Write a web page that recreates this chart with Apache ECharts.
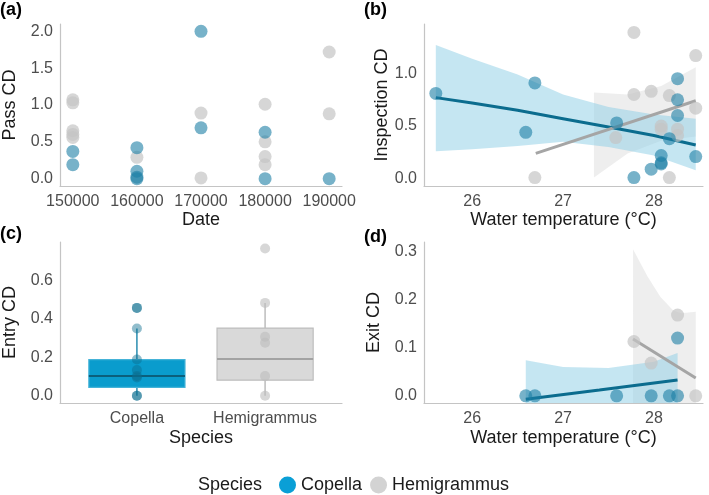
<!DOCTYPE html>
<html>
<head>
<meta charset="utf-8">
<script src="https://cdn.jsdelivr.net/npm/echarts@6/dist/echarts.min.js"></script>
<style>
  html, body { margin: 0; padding: 0; background: #fff; }
  #chart { width: 709px; height: 495px; }
</style>
</head>
<body>
<div id="chart"></div>
<script>
// (a) Pass CD by date
var dateTicks = [150000, 160000, 170000, 180000, 190000];
var passCopella = [[150000, 0.37], [150000, 0.19], [160000, 0.42], [160000, 0.10], [160000, 0.02], [160000, 0.0],
    [170000, 2.0], [170000, 0.69], [180000, 0.63], [180000, 0.0], [190000, 0.0]];
var passHemi = [[150000, 1.07], [150000, 1.03], [150000, 0.65], [150000, 0.60], [150000, 0.56], [160000, 0.29],
    [170000, 0.89], [170000, 0.01], [180000, 1.01], [180000, 0.50], [180000, 0.30], [180000, 0.19],
    [190000, 1.72], [190000, 0.88]];

// (b) Inspection CD vs water temperature
var tempTicks = [26, 27, 28];
var inspCopella = [[25.60, 0.81], [26.69, 0.91], [26.59, 0.44], [27.59, 0.53], [27.78, 0.01], [27.97, 0.09],
    [28.08, 0.15], [28.08, 0.14], [28.08, 0.22], [28.17, 0.38], [28.26, 0.95], [28.26, 0.75], [28.26, 0.60],
    [28.46, 0.21]];
var inspHemi = [[26.69, 0.01], [27.58, 0.39], [27.78, 1.39], [27.78, 0.80], [27.97, 0.83], [28.08, 0.50],
    [28.08, 0.47], [28.17, 0.79], [28.17, 0.01], [28.26, 0.47], [28.26, 0.41], [28.46, 1.17], [28.46, 0.67]];
var inspCopFitX = [25.6, 26.0, 26.5, 27.0, 27.5, 28.0, 28.46];
var inspCopFit = [0.77, 0.72, 0.65, 0.57, 0.49, 0.41, 0.32];
var inspCopUpper = [1.27, 1.14, 0.99, 0.80, 0.68, 0.61, 0.57];
var inspCopLower = [0.26, 0.28, 0.31, 0.35, 0.30, 0.22, 0.08];
var inspHemiFitX = [26.7, 28.46];
var inspHemiFit = [0.24, 0.74];
var inspHemiBandX = [27.34, 27.71, 28.08, 28.46];
var inspHemiUpper = [0.82, 0.80, 0.88, 1.06];
var inspHemiLower = [0.01, 0.24, 0.36, 0.40];

// (c) Entry CD by species
var speciesNames = ['Copella', 'Hemigrammus'];
// min, q1, median, q3, max
var entryBoxCopella = [0, 0.043, 0.103, 0.188, 0.35];
var entryBoxHemi = [0, 0.081, 0.191, 0.352, 0.483];
var entryCopella = [0.457, 0.457, 0.35, 0.188, 0.134, 0.103, 0.095, 0.0, 0.0];
var entryHemi = [0.766, 0.483, 0.307, 0.276, 0.102, 0.0];

// (d) Exit CD vs water temperature
var exitCopella = [[26.59, 0], [26.69, 0], [27.59, 0], [27.97, 0], [28.17, 0], [28.26, 0], [28.26, 0.12]];
var exitHemi = [[27.78, 0.113], [27.97, 0.068], [28.26, 0.168], [28.46, 0]];
var exitCopFitX = [26.59, 27.4, 28.26];
var exitCopFit = [-0.007, 0.012, 0.033];
var exitCopBandX = [26.59, 27.0, 27.5, 28.0, 28.26];
var exitCopUpper = [0.074, 0.060, 0.058, 0.071, 0.089];
var exitCopLower = [-0.015, -0.015, -0.015, -0.015, -0.015];
var exitHemiFitX = [27.77, 28.46];
var exitHemiFit = [0.118, 0.037];
var exitHemiBandX = [27.77, 27.93, 28.07, 28.21, 28.3, 28.46];
var exitHemiUpper = [0.305, 0.248, 0.206, 0.178, 0.172, 0.175];
var exitHemiLower = [-0.015, -0.015, -0.015, -0.015, -0.015, -0.015];

var FONT = 'Liberation Sans, Arial, sans-serif';
var BLUE_PT = '#1c7ea5', GREY_PT = '#c4c4c4';
var BLUE_LINE = '#0b6c8e', GREY_LINE = '#a5a5a5';
var BLUE_BAND = 'rgba(140,205,230,0.5)', GREY_BAND = 'rgba(200,200,200,0.3)';

function zip(xs, ys) {
    return xs.map(function (x, i) { return [x, ys[i]]; });
}
function fixed1(v) { return Number(v).toFixed(1); }

function xAxisCfg(idx, min, max, ticks, name, gap, fmt) {
    return {
        type: 'value', gridIndex: idx, min: min, max: max,
        name: name, nameLocation: 'middle', nameGap: gap,
        nameTextStyle: { color: '#1a1a1a', fontSize: 18, fontFamily: FONT },
        axisLine: { show: true, onZero: false, lineStyle: { color: '#c4c4c4', width: 1.2 } },
        axisTick: { show: false },
        splitLine: { show: false },
        axisLabel: { customValues: ticks, formatter: fmt, color: '#4d4d4d', fontSize: 16, fontFamily: FONT, margin: 8 }
    };
}
function yAxisCfg(idx, min, max, ticks, name, gap) {
    return {
        type: 'value', gridIndex: idx, min: min, max: max,
        name: name, nameLocation: 'middle', nameGap: gap,
        nameTextStyle: { color: '#1a1a1a', fontSize: 18, fontFamily: FONT },
        axisLine: { show: true, onZero: false, lineStyle: { color: '#c4c4c4', width: 1.2 } },
        axisTick: { show: false },
        splitLine: { show: false },
        axisLabel: { customValues: ticks, formatter: fixed1, color: '#4d4d4d', fontSize: 16, fontFamily: FONT, margin: 7 }
    };
}
function pts(name, idx, data, color, opacity, size) {
    return {
        name: name, type: 'scatter', xAxisIndex: idx, yAxisIndex: idx, data: data,
        symbolSize: size || 13, z: 5,
        itemStyle: { color: color, opacity: opacity }
    };
}
function fit(name, idx, data, color) {
    return {
        name: name, type: 'line', xAxisIndex: idx, yAxisIndex: idx, data: data,
        showSymbol: false, symbol: 'none', z: 4,
        lineStyle: { color: color, width: 3 }
    };
}
// confidence ribbon drawn as one polygon through the axis scales
function band(name, idx, xs, upper, lower, color) {
    return {
        name: name, type: 'custom', xAxisIndex: idx, yAxisIndex: idx, z: 2,
        data: xs.map(function (x, i) { return [x, lower[i], upper[i]]; }),
        encode: { x: 0, y: [1, 2] },
        renderItem: function (params, api) {
            if (params.dataIndex !== 0) return null;
            var poly = [];
            for (var i = 0; i < xs.length; i++) poly.push(api.coord([xs[i], upper[i]]));
            for (var j = xs.length - 1; j >= 0; j--) poly.push(api.coord([xs[j], lower[j]]));
            return { type: 'polygon', shape: { points: poly }, style: { fill: color } };
        }
    };
}

var boxStyles = [
    { fill: '#0a9ccd', stroke: '#45b3d8', median: '#0b5f7c', whisker: '#2a8db0' },
    { fill: '#d9d9d9', stroke: '#bdbdbd', median: '#a3a3a3', whisker: '#bdbdbd' }
];

var labelFont = 'bold 18px Liberation Sans, Arial';

var chart = echarts.init(document.getElementById('chart'));
var option = {
    backgroundColor: '#fff',
    animation: false,
    textStyle: { fontFamily: FONT },
    grid: [
        { left: 57, top: 24, width: 285, height: 162 },
        { left: 424, top: 24, width: 279, height: 162 },
        { left: 57, top: 242, width: 285, height: 161 },
        { left: 424, top: 242, width: 279, height: 161 }
    ],
    xAxis: [
        xAxisCfg(0, 148000, 192000, dateTicks, 'Date', 24, function (v) { return String(v); }),
        xAxisCfg(1, 25.47, 28.54, tempTicks, 'Water temperature (°C)', 24, function (v) { return String(v); }),
        xAxisCfg(2, 0.4, 2.6, [1, 2], 'Species', 26, function (v) { return speciesNames[Math.round(v) - 1]; }),
        xAxisCfg(3, 25.47, 28.54, tempTicks, 'Water temperature (°C)', 26, function (v) { return String(v); })
    ],
    yAxis: [
        yAxisCfg(0, -0.1, 2.1, [0, 0.5, 1, 1.5, 2], 'Pass CD', 41),
        yAxisCfg(1, -0.07, 1.47, [0, 0.5, 1], 'Inspection CD', 33),
        yAxisCfg(2, -0.038, 0.80, [0, 0.2, 0.4, 0.6], 'Entry CD', 41),
        yAxisCfg(3, -0.015, 0.32, [0, 0.1, 0.2, 0.3], 'Exit CD', 41)
    ],
    legend: {
        left: 274, top: 471,
        itemWidth: 17, itemHeight: 17, itemGap: 8,
        icon: 'circle',
        selectedMode: false,
        textStyle: { fontSize: 18, color: '#1a1a1a', fontFamily: FONT },
        data: [
            { name: 'Copella', itemStyle: { color: '#0a9fd6', opacity: 1 } },
            { name: 'Hemigrammus', itemStyle: { color: '#d3d3d3', opacity: 1 } }
        ]
    },
    graphic: [
        { type: 'text', left: 0, top: 1, style: { text: '(a)', fill: '#000', font: labelFont } },
        { type: 'text', left: 364, top: 1, style: { text: '(b)', fill: '#000', font: labelFont } },
        { type: 'text', left: 0, top: 225, style: { text: '(c)', fill: '#000', font: labelFont } },
        { type: 'text', left: 364, top: 228, style: { text: '(d)', fill: '#000', font: labelFont } },
        { type: 'text', left: 198, top: 476, style: { text: 'Species', fill: '#1a1a1a', font: '18px Liberation Sans, Arial' } }
    ],
    series: [].concat(
        // (a)
        [pts('Hemigrammus', 0, passHemi, GREY_PT, 0.7), pts('Copella', 0, passCopella, BLUE_PT, 0.6)],
        // (b)
        [band('bHemi', 1, inspHemiBandX, inspHemiUpper, inspHemiLower, GREY_BAND),
         band('bCop', 1, inspCopFitX, inspCopUpper, inspCopLower, BLUE_BAND),
         fit('bCopFit', 1, zip(inspCopFitX, inspCopFit), BLUE_LINE),
         fit('bHemiFit', 1, zip(inspHemiFitX, inspHemiFit), GREY_LINE),
         pts('Hemigrammus', 1, inspHemi, GREY_PT, 0.7), pts('Copella', 1, inspCopella, BLUE_PT, 0.6)],
        // (c)
        [{
            name: 'entryBox', type: 'custom', xAxisIndex: 2, yAxisIndex: 2, z: 3,
            data: [[1].concat(entryBoxCopella), [2].concat(entryBoxHemi)],
            encode: { x: 0, y: [1, 2, 3, 4, 5] },
            renderItem: function (params, api) {
                var x = api.value(0);
                var st = boxStyles[params.dataIndex];
                var pMin = api.coord([x, api.value(1)]);
                var pQ1 = api.coord([x, api.value(2)]);
                var pMed = api.coord([x, api.value(3)]);
                var pQ3 = api.coord([x, api.value(4)]);
                var pMax = api.coord([x, api.value(5)]);
                var half = api.size([0.375, 0])[0];
                return {
                    type: 'group',
                    children: [
                        { type: 'line', shape: { x1: pMin[0], y1: pMin[1], x2: pQ1[0], y2: pQ1[1] }, style: { stroke: st.whisker, lineWidth: 1.5 } },
                        { type: 'line', shape: { x1: pQ3[0], y1: pQ3[1], x2: pMax[0], y2: pMax[1] }, style: { stroke: st.whisker, lineWidth: 1.5 } },
                        { type: 'rect', shape: { x: pQ1[0] - half, y: pQ3[1], width: half * 2, height: pQ1[1] - pQ3[1] }, style: { fill: st.fill, stroke: st.stroke, lineWidth: 1.2 } },
                        { type: 'line', shape: { x1: pMed[0] - half, y1: pMed[1], x2: pMed[0] + half, y2: pMed[1] }, style: { stroke: st.median, lineWidth: 2 } }
                    ]
                };
            }
        },
        pts('Copella', 2, entryCopella.map(function (v) { return [1, v]; }), BLUE_LINE, 0.45, 10),
        pts('Hemigrammus', 2, entryHemi.map(function (v) { return [2, v]; }), '#bdbdbd', 0.6, 10)],
        // (d)
        [band('dHemi', 3, exitHemiBandX, exitHemiUpper, exitHemiLower, GREY_BAND),
         band('dCop', 3, exitCopBandX, exitCopUpper, exitCopLower, BLUE_BAND),
         fit('dCopFit', 3, zip(exitCopFitX, exitCopFit), BLUE_LINE),
         fit('dHemiFit', 3, zip(exitHemiFitX, exitHemiFit), GREY_LINE),
         pts('Hemigrammus', 3, exitHemi, GREY_PT, 0.7), pts('Copella', 3, exitCopella, BLUE_PT, 0.6)]
    )
};
chart.setOption(option);
window.addEventListener('resize', function () {
    chart.resize();
});
</script>
</body>
</html>
